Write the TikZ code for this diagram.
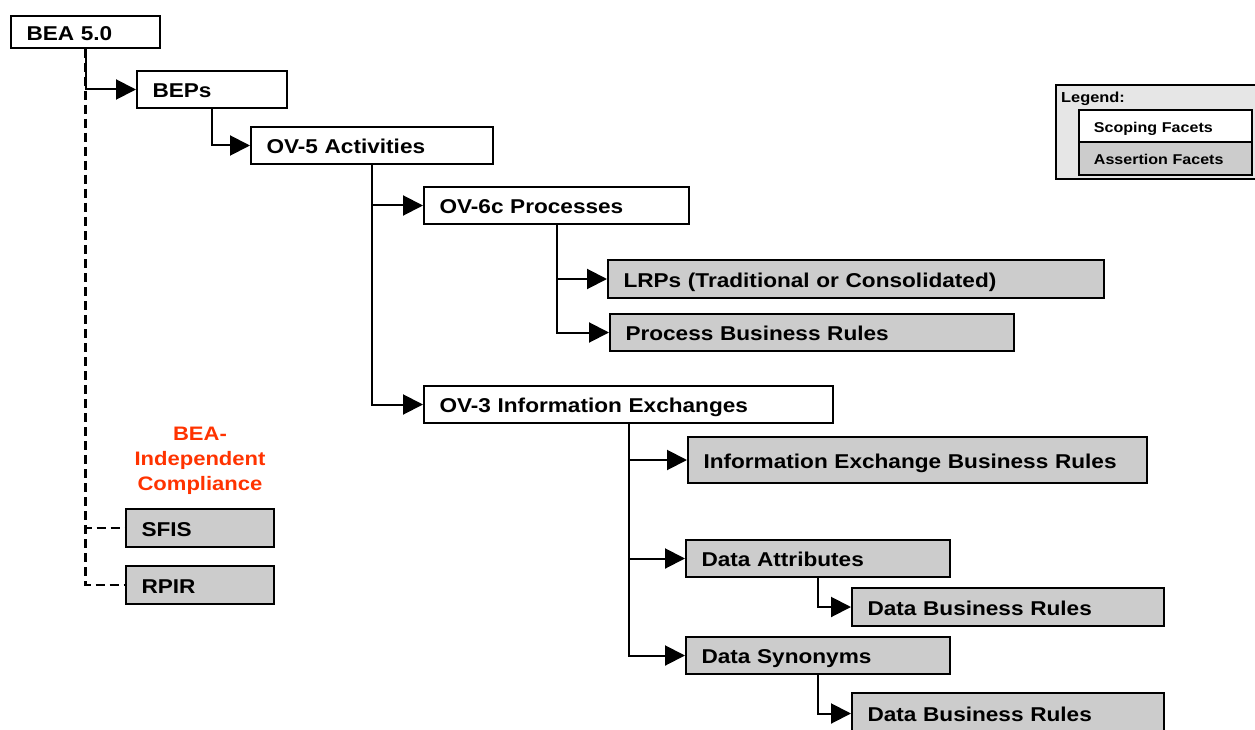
\documentclass[tikz,border=0pt]{standalone}
\usepackage{fontspec}
\setmainfont[FakeStretch=1.13]{Liberation Sans}
\usetikzlibrary{arrows.meta}
\definecolor{boxgray}{RGB}{204,204,204}
\definecolor{legbg}{RGB}{230,230,230}
\definecolor{redtxt}{RGB}{255,51,0}
\tikzset{
  box/.style={draw, line width=2pt, anchor=north west, inner xsep=15.5pt, inner ysep=0pt,
    text height=16.2pt, text depth=0pt, align=left, font=\fontsize{20}{23}\selectfont\bfseries},
  lbox/.style={draw, line width=1.8pt, anchor=north west, inner xsep=15pt, inner ysep=0pt,
    text height=12.4pt, text depth=0pt, align=left, font=\fontsize{14.2}{17}\selectfont\bfseries},
  conn/.style={line width=2pt, -{Triangle[length=20pt,width=20pt]}},
  dconn/.style={line width=2.2pt, dash pattern=on 9pt off 5pt},
}
\newcommand{\bx}[7]{%
  \pgfmathsetmacro{\bxw}{#4-#2}\pgfmathsetmacro{\bxh}{#5-#3}\pgfmathsetmacro{\bxt}{#4-#2-31}%
  \node[box, fill=#6, minimum width=\bxw pt, minimum height=\bxh pt, text width=\bxt pt] (#1) at (#2,#3) {#7};}
\newcommand{\lbx}[7]{%
  \pgfmathsetmacro{\bxw}{#4-#2}\pgfmathsetmacro{\bxh}{#5-#3}\pgfmathsetmacro{\bxt}{#4-#2-30}%
  \node[lbox, fill=#6, minimum width=\bxw pt, minimum height=\bxh pt, text width=\bxt pt] (#1) at (#2,#3) {#7};}
\begin{document}
\begin{tikzpicture}[x=1pt,y=-1pt]
\useasboundingbox (0,0) rectangle (1255,730);
\fill[white] (0,0) rectangle (1255,730);
% boxes
\bx{bea}{10}{15}{159}{47}{white}{BEA 5.0}
\bx{beps}{136}{70}{286}{107}{white}{BEPs}
\bx{ov5}{250}{126}{492}{163}{white}{OV-5 Activities}
\bx{ov6c}{423}{186}{688}{223}{white}{OV-6c Processes}
\bx{lrp}{607}{259}{1103}{297}{boxgray}{LRPs (Traditional or Consolidated)}
\bx{pbr}{609}{313}{1013}{350}{boxgray}{Process Business Rules}
\bx{ov3}{423}{385}{832}{422}{white}{OV-3 Information Exchanges}
\bx{iebr}{687}{436}{1146}{482}{boxgray}{Information Exchange Business Rules}
\bx{da}{685}{539}{949}{576}{boxgray}{Data Attributes}
\bx{dbra}{851}{587}{1163}{625}{boxgray}{Data Business Rules}
\bx{ds}{685}{636}{949}{673}{boxgray}{Data Synonyms}
\bx{dbrb}{851}{692}{1163}{733}{boxgray}{Data Business Rules}
\bx{sfis}{125}{508}{273}{546}{boxgray}{SFIS}
\bx{rpir}{125}{565}{273}{603}{boxgray}{RPIR}
% red label
\node[text=redtxt, align=center, font=\fontsize{19.5}{25}\selectfont\bfseries] (bic) at (200,461)
  {BEA-\\Independent\\Compliance};
% connectors
\draw[dconn] (bea.south) |- (sfis.west);
\draw[dconn] (bea.south) |- (rpir.west);
\draw[conn] (bea.south) |- (beps.west);
\draw[conn] (beps.south) |- (ov5.west);
\draw[conn] (ov5.south) |- (ov6c.west);
\draw[conn] (ov5.south) |- (ov3.west);
\draw[conn] (ov6c.south) |- (lrp.west);
\draw[conn] (ov6c.south) |- (pbr.west);
\draw[conn] (ov3.south) |- (iebr.west);
\draw[conn] (ov3.south) |- (da.west);
\draw[conn] (ov3.south) |- (ds.west);
\draw[conn] (da.south) |- (dbra.west);
\draw[conn] (ds.south) |- (dbrb.west);
% legend
\node[draw, line width=1.6pt, fill=legbg, anchor=north west, minimum width=205pt, minimum height=94pt, inner sep=0pt] (leg) at (1055,84) {};
\node[anchor=base west, inner sep=0pt, font=\fontsize{14.5}{17}\selectfont\bfseries] (legt) at (1061,103) {Legend:};
\lbx{scop}{1078}{109}{1251}{141}{white}{Scoping Facets}
\lbx{asrt}{1078}{141}{1251}{174}{boxgray}{Assertion Facets}
\end{tikzpicture}
\end{document}
